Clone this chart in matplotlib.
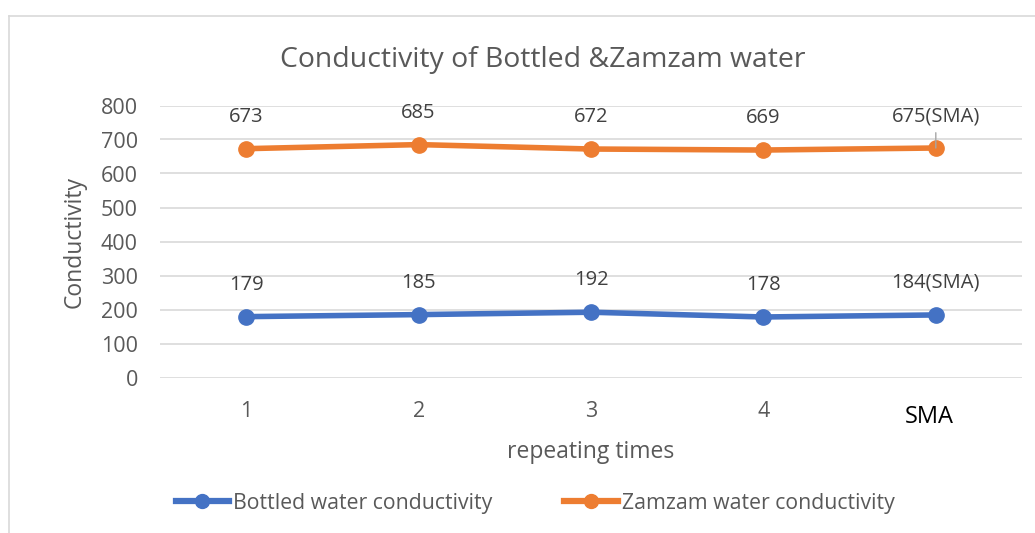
import matplotlib
matplotlib.use("Agg")
import matplotlib.pyplot as plt
from matplotlib.lines import Line2D

plt.rcParams['font.family'] = ['Open Sans', 'DejaVu Sans']

# data
categories = ['1', '2', '3', '4', 'SMA']
bottled = [179, 185, 192, 178, 184]
zamzam = [673, 685, 672, 669, 675]
bottled_labels = ['179', '185', '192', '178', '184(SMA)']
zamzam_labels = ['673', '685', '672', '669', '675(SMA)']
y_ticks = [0, 100, 200, 300, 400, 500, 600, 700, 800]

BLUE = '#4472C4'
ORANGE = '#ED7D31'
GRID = '#D9D9D9'
TICK = '#595959'
LABEL = '#404040'

W, H = 1035, 533
Y0, Y800 = 377.5, 105.5  # pixel rows of the 0 and 800 gridlines
fig = plt.figure(figsize=(W / 100, H / 100), dpi=100)

# chart-area border (only top and left visible in the crop)
fig.add_artist(Line2D([8.5 / W, 8.5 / W], [0, 1 - 15.5 / H], color='#D9D9D9', lw=1.2))
fig.add_artist(Line2D([8.5 / W, 1], [1 - 15.5 / H, 1 - 15.5 / H], color='#D9D9D9', lw=1.2))

ax = fig.add_axes([160 / W, 1 - Y0 / H, 862 / W, (Y0 - Y800) / H])
x = list(range(len(categories)))

ax.plot(x, bottled, color=BLUE, lw=4, marker='o', ms=11, solid_capstyle='round', zorder=3)
ax.plot(x, zamzam, color=ORANGE, lw=4, marker='o', ms=11, solid_capstyle='round', zorder=3)

for xi, v, s in zip(x, bottled, bottled_labels):
    ax.annotate(s, (xi, v), xytext=(0, 23), textcoords='offset points', ha='center', va='center',
                fontsize=14.5, color=LABEL)
for xi, v, s in zip(x, zamzam, zamzam_labels):
    ax.annotate(s, (xi, v), xytext=(0, 23), textcoords='offset points', ha='center', va='center',
                fontsize=14.5, color=LABEL)
# little leader line above the last orange point
ax.annotate('', (x[-1], zamzam[-1]), xytext=(0, 11), textcoords='offset points',
            arrowprops=dict(arrowstyle='-', color='#A6A6A6', lw=1, shrinkA=0, shrinkB=0))

ax.set_xlim(-0.5, len(categories) - 0.5)
ax.set_ylim(0, 800)
ax.set_yticks(y_ticks)
ax.set_xticks(x)
# the last category label is drawn separately (bigger, black, lower)
ax.set_xticklabels(categories[:-1] + [''])
ax.text(x[-1] - 0.04, -(417 - Y0) / (Y0 - Y800), categories[-1], transform=ax.get_xaxis_transform(),
        ha='center', va='center', fontsize=17, color='black')
ax.tick_params(axis='both', length=0, labelsize=15.5, labelcolor=TICK)
ax.tick_params(axis='x', pad=17)
ax.tick_params(axis='y', pad=16)
ax.grid(axis='y', color=GRID, lw=1.2)
ax.set_axisbelow(True)
for sp in ax.spines.values():
    sp.set_visible(False)

ax.set_xlabel('repeating times', fontsize=16.5, color=TICK)
ax.xaxis.set_label_coords(0.5, -(440 - Y0) / (Y0 - Y800))
ax.set_ylabel('Conductivity', fontsize=16.5, color=TICK)
ax.yaxis.set_label_coords((87 - 160) / 862, 0.5)

fig.text(543 / W, 1 - 60 / H, 'Conductivity of Bottled &Zamzam water', ha='center', va='center',
         fontsize=20.4, color=TICK)

handles = [Line2D([], [], color=BLUE, lw=4.5, marker='o', ms=10),
           Line2D([], [], color=ORANGE, lw=4.5, marker='o', ms=10)]
fig.legend(handles, ['Bottled water conductivity', 'Zamzam water conductivity'],
           loc='center', bbox_to_anchor=(535 / W, 1 - 503 / H), ncol=2, frameon=False,
           fontsize=15.3, labelcolor=TICK, handlelength=2.5, handletextpad=0.2, columnspacing=3.4)

fig.savefig('out.png', dpi=100)
